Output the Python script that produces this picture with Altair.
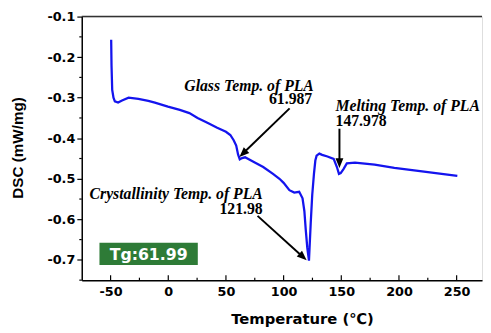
import altair as alt
import pandas as pd

# ---- DSC curve (Temperature in C, DSC in mW/mg) ----
temp = [-49.5, -49.2, -48.6, -47.5, -46.3, -43.5, -40.1, -34.4, -25.9, -17.3, -11.6, -0.3,
        10, 18.3, 25.4, 33.9, 42.4, 50, 53.8, 56.7, 58.9, 60.5, 61.99, 64, 66.6, 75, 82.3,
        90.8, 96.4, 100, 105, 109.2, 113.5, 116.4, 118, 119.2, 120.5, 121.98, 123.5, 124.8,
        126.3, 127.5, 128.6, 131, 133.4, 138, 143.4, 146.2, 147.98, 149.5, 151.9, 154.8,
        161.9, 178.9, 196, 220, 250.6]
dsc = [-0.157, -0.22, -0.281, -0.300, -0.309, -0.312, -0.307, -0.300, -0.303, -0.308, -0.312, -0.322,
       -0.330, -0.338, -0.350, -0.362, -0.374, -0.384, -0.392, -0.405, -0.418, -0.440, -0.452, -0.449,
       -0.447, -0.460, -0.471, -0.488, -0.500, -0.510, -0.528, -0.534, -0.532, -0.548, -0.58, -0.626,
       -0.67, -0.702, -0.609, -0.54, -0.488, -0.455, -0.443, -0.438, -0.441, -0.445, -0.451, -0.471,
       -0.488, -0.486, -0.476, -0.462, -0.460, -0.465, -0.473, -0.482, -0.493]

# ---- ticks ----
x_major = [-50, 0, 50, 100, 150, 200, 250]
x_minor = [-25, 25, 75, 125, 175, 225]
y_major = [-0.7, -0.6, -0.5, -0.4, -0.3, -0.2, -0.1]
y_minor = [-0.75, -0.65, -0.55, -0.45, -0.35, -0.25, -0.15]

# ---- annotations ----
label_text = ["Glass Temp. of PLA", "Crystallinity Temp. of PLA"]
label_x = [126.2, 81.9]
label_y = [-0.2826, -0.5494]
value_text = ["61.987", "121.98"]
value_x = [124.8, 81.9]
value_y = [-0.3166, -0.5874]

melt_text = ["Melting Temp. of PLA"]
melt_value = ["147.978"]
melt_x = [145.0]
melt_y = [-0.3328]
melt_vy = [-0.3692]

arrow_x1 = [105.2, 148.4, 77.4]
arrow_y1 = [-0.3263, -0.3765, -0.5915]
arrow_x2 = [64.7, 148.4, 116.8]
arrow_y2 = [-0.4376, -0.4613, -0.6927]
tip_x = [61.7, 148.4, 120.0]
tip_y = [-0.446, -0.4735, -0.7007]
tip_angle = [226, 180, 132]

tg_box_x = [-59.65]
tg_box_x2 = [25.6]
tg_box_y = [-0.6578]
tg_box_y2 = [-0.7128]
tg_text = ["Tg:61.99"]
tg_text_x = [-17.0]
tg_text_y = [-0.7014]

X_DOMAIN = [-75, 272]
Y_DOMAIN = [-0.75, -0.1]
W, H = 407, 268

xs = alt.Scale(domain=X_DOMAIN, nice=False, zero=False)
ys = alt.Scale(domain=Y_DOMAIN, nice=False, zero=False)

XT = "Temperature (℃)"
YT = "DSC (mW/mg)"
xax = alt.Axis(
    values=x_major, ticks=False, tickSize=0, grid=False,
    labelExpr="(datum.value < 0 ? '-' : '') + format(abs(datum.value), 'd')",
    labelFont="DejaVu Sans", labelFontWeight="bold", labelFontSize=13, labelColor="black",
    labelPadding=6, domainColor="black", domainWidth=1.5,
    title=XT, titleFont="DejaVu Sans", titleFontWeight="bold",
    titleFontSize=15, titleColor="black", titleX=224, titleY=44,
    titleAlign="center", titleBaseline="alphabetic")
yax = alt.Axis(
    values=y_major, ticks=True, tickSize=5, tickWidth=1.2, tickColor="black", grid=False,
    labelExpr="(datum.value < 0 ? '-' : '') + format(abs(datum.value), '.1f')",
    labelFont="DejaVu Sans", labelFontWeight="bold", labelFontSize=13, labelColor="black",
    labelPadding=2, domainColor="black", domainWidth=1.5,
    title=YT, titleFont="Liberation Sans", titleFontWeight="bold",
    titleFontSize=15.5, titleColor="black", titleAngle=270, titleX=-65.5, titleY=133,
    titleAlign="center", titleBaseline="middle")


def X(f):
    return alt.X(f, scale=xs, axis=xax, title=XT)


def Y(f):
    return alt.Y(f, scale=ys, axis=yax, title=YT)


curve = pd.DataFrame({"T": temp, "v": dsc})
curve["idx"] = range(len(curve))

line = alt.Chart(curve).mark_line(color="#1414ee", strokeWidth=2.3).encode(
    x=X("T:Q"), y=Y("v:Q"), order="idx:Q")

# top frame line
top = alt.Chart(pd.DataFrame({"a": [X_DOMAIN[0]], "b": [X_DOMAIN[1]], "c": [Y_DOMAIN[1]]})).mark_rule(
    color="#333333", strokeWidth=1.5).encode(x=X("a:Q"), x2="b:Q", y=Y("c:Q"))

# x ticks (inward)
xmaj = alt.Chart(pd.DataFrame({"t": x_major})).mark_rule(color="black", strokeWidth=1.2).encode(
    x=X("t:Q"), y=alt.value(H), y2=alt.value(H - 5))
xmin = alt.Chart(pd.DataFrame({"t": x_minor})).mark_rule(color="black", strokeWidth=1.2).encode(
    x=X("t:Q"), y=alt.value(H), y2=alt.value(H - 2.5))
# y minor ticks (outward)
ymin = alt.Chart(pd.DataFrame({"t": y_minor})).mark_rule(color="black", strokeWidth=1.2).encode(
    y=Y("t:Q"), x=alt.value(-2.5), x2=alt.value(0))

# Tg box
box = alt.Chart(pd.DataFrame({"x": tg_box_x, "x2": tg_box_x2, "y": tg_box_y, "y2": tg_box_y2})).mark_rect(
    color="#2e7b37").encode(x=X("x:Q"), x2="x2:Q", y=Y("y:Q"), y2="y2:Q")
boxtext = alt.Chart(pd.DataFrame({"x": tg_text_x, "y": tg_text_y, "s": tg_text})).mark_text(
    font="DejaVu Sans", fontWeight="bold", fontSize=16, color="white", align="center",
    baseline="alphabetic").encode(x=X("x:Q"), y=Y("y:Q"), text="s:N")

# annotation texts
lab_r = alt.Chart(pd.DataFrame({"x": label_x, "y": label_y, "s": label_text})).mark_text(
    font="Liberation Serif", fontStyle="italic", fontWeight="bold", fontSize=16, color="black",
    align="right", baseline="alphabetic").encode(x=X("x:Q"), y=Y("y:Q"), text="s:N")
val_r = alt.Chart(pd.DataFrame({"x": value_x, "y": value_y, "s": value_text})).mark_text(
    font="Liberation Serif", fontWeight="bold", fontSize=16, color="black",
    align="right", baseline="alphabetic").encode(x=X("x:Q"), y=Y("y:Q"), text="s:N")
lab_l = alt.Chart(pd.DataFrame({"x": melt_x, "y": melt_y, "s": melt_text})).mark_text(
    font="Liberation Serif", fontStyle="italic", fontWeight="bold", fontSize=16, color="black",
    align="left", baseline="alphabetic").encode(x=X("x:Q"), y=Y("y:Q"), text="s:N")
val_l = alt.Chart(pd.DataFrame({"x": melt_x, "y": melt_vy, "s": melt_value})).mark_text(
    font="Liberation Serif", fontWeight="bold", fontSize=16, color="black",
    align="left", baseline="alphabetic").encode(x=X("x:Q"), y=Y("y:Q"), text="s:N")

# arrows
shafts = alt.Chart(pd.DataFrame({"x1": arrow_x1, "y1": arrow_y1, "x2": arrow_x2, "y2": arrow_y2})).mark_rule(
    color="black", strokeWidth=2).encode(x=X("x1:Q"), y=Y("y1:Q"), x2="x2:Q", y2="y2:Q")
heads = alt.Chart(pd.DataFrame({"x": tip_x, "y": tip_y, "a": tip_angle})).mark_point(
    shape="M0,0L-0.4,1L0.4,1Z", filled=True, size=400, color="black", opacity=1).encode(
    x=X("x:Q"), y=Y("y:Q"), angle=alt.Angle("a:Q", scale=None))

chart = alt.layer(line, top, xmaj, xmin, ymin, box, boxtext, lab_r, val_r, lab_l, val_l, shafts, heads).properties(
    width=W, height=H,
    autosize=alt.AutoSizeParams(type="none"),
    padding={"left": 75, "top": 6, "right": 1, "bottom": 51},
).configure_view(stroke=None).configure(background="white")

chart.save("out.html", embed_options={"renderer": "svg", "actions": False})
